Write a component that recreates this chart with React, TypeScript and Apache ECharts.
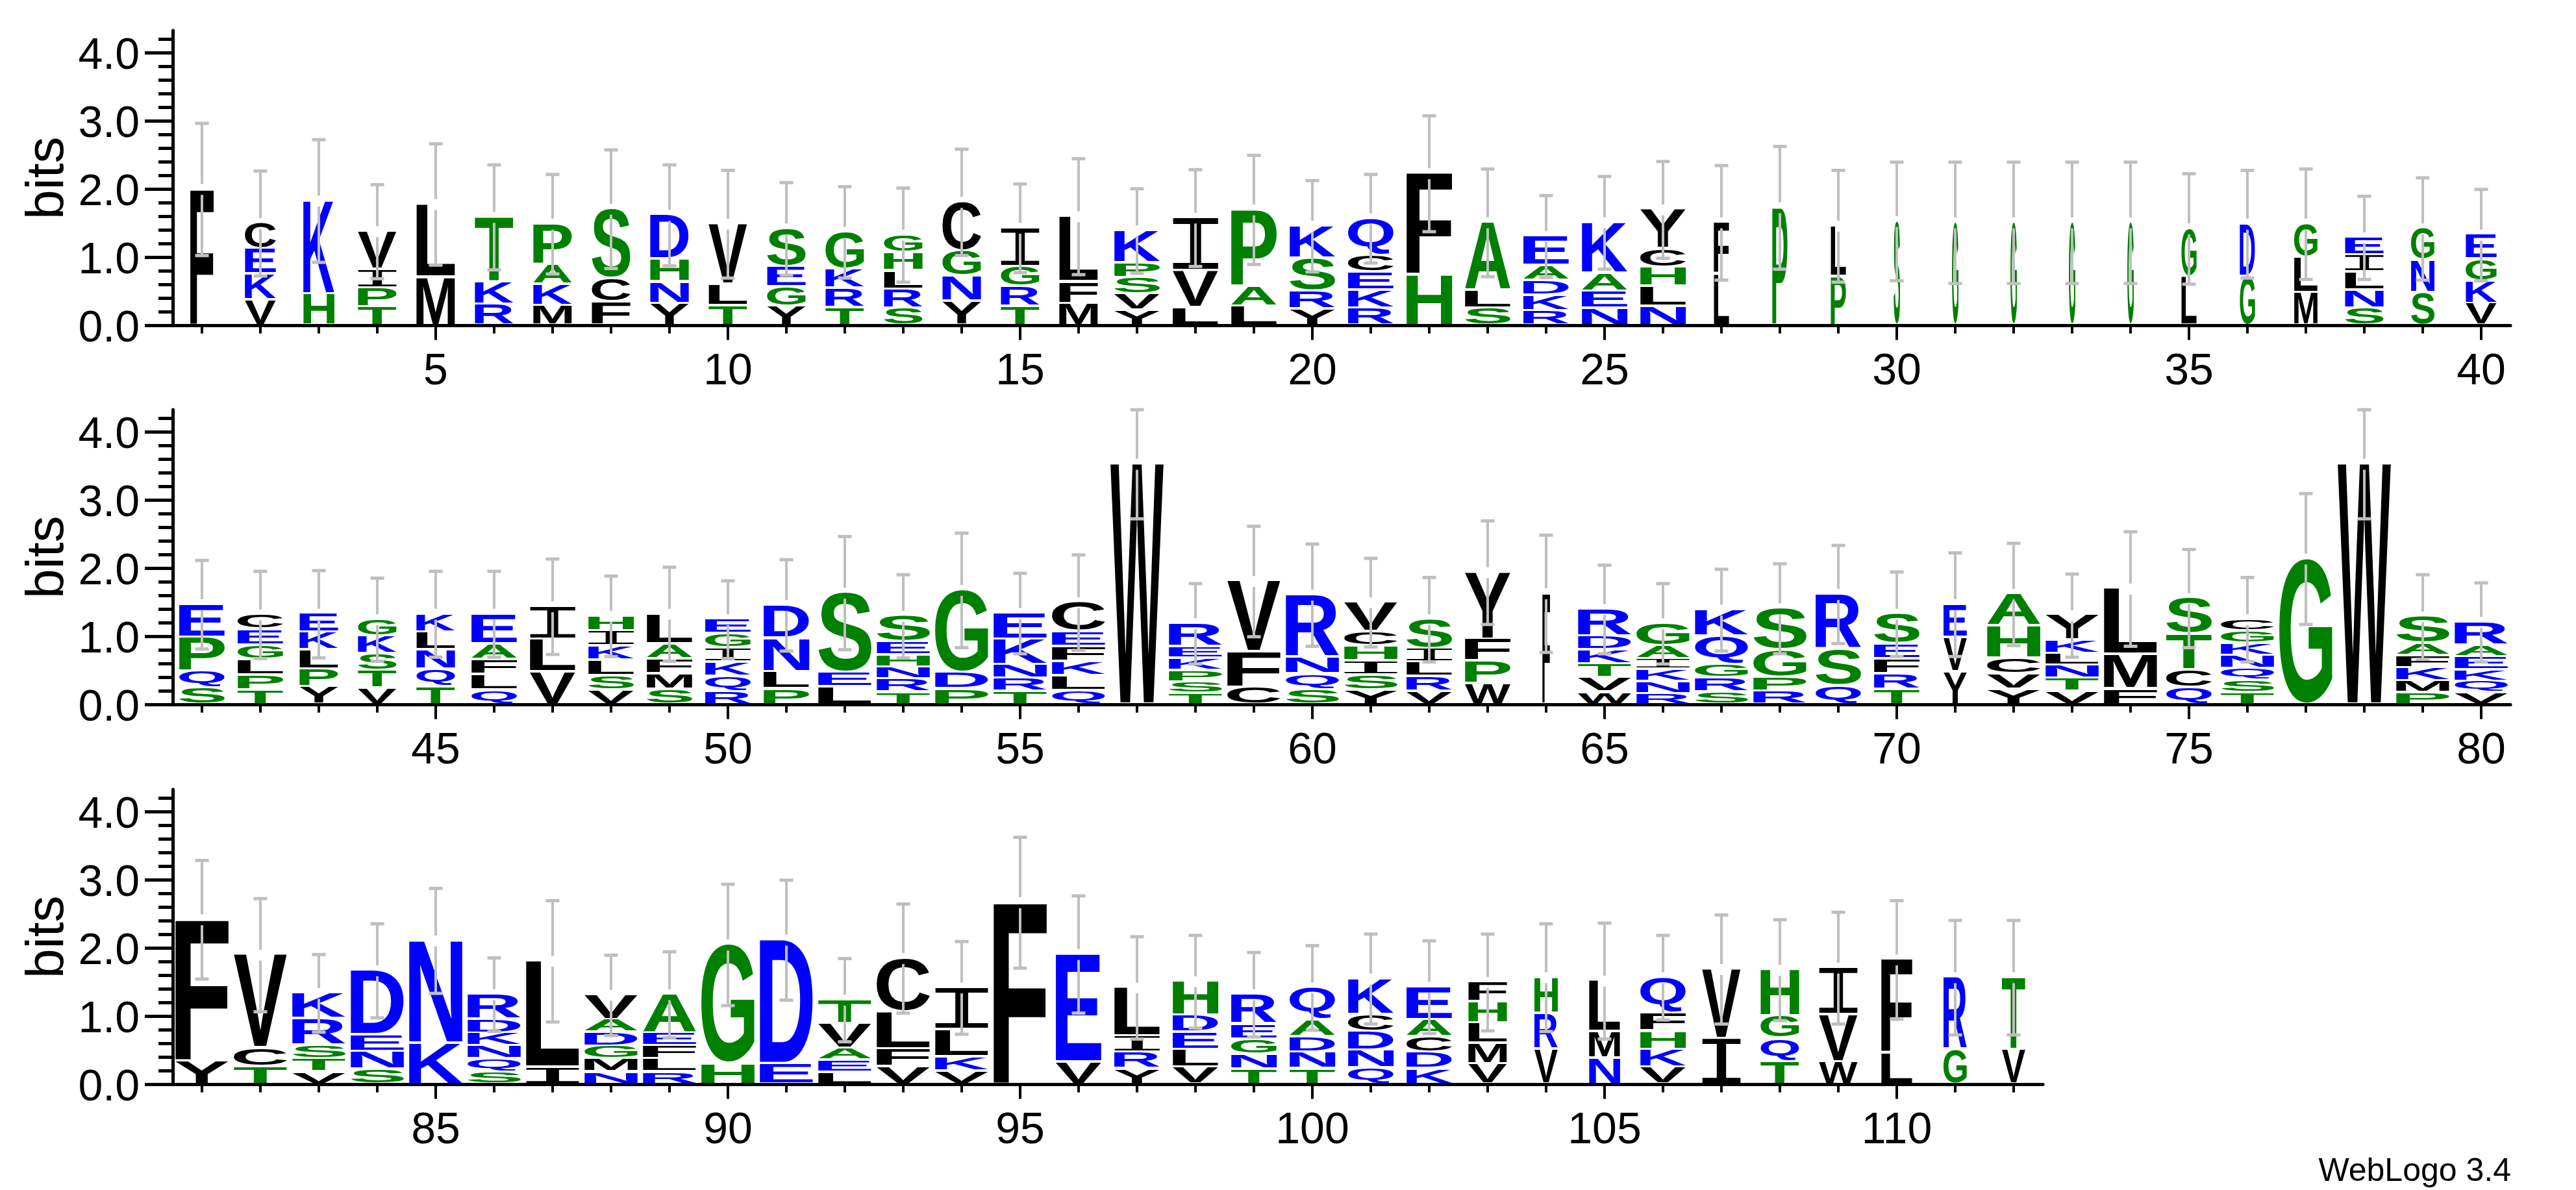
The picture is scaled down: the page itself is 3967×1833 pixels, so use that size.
import { useEffect, useRef } from "react";
import * as echarts from "echarts";

// stack of each position, bottom letter first
const LETTERS = [
  "F","VKEC","HK","TPIV","ML","RKT","MKAP","FCS","YNHD","TLV",
  "YGES","TRKG","SRLHG","YNGC","TRGI","MFL","YVSPK","LVI","LAP","YRSK",
  "RKECQ","HF","SLA","RKDAE","NEAK","NLHCY","LF","P","PL","S",
  "G","G","G","G","LG","GD","MLG","SNLIE","SNG","VKGE",
  "SQPE","TPLGEC","YPLKE","VTSKG","TQNLK","QLFAE","VLI","VSLKIH","SMFAL","RQKIGE",
  "PLND","LES","TRNHES","PDG","TRNKE","QLKFEC","W","TSPKER","CFV","SQNR",
  "YSIHCV","VRLIS","WPFY","F","WVTKDR","RNKIAG","SRGQK","RPGS","QSR","TRFES",
  "YVE","YVCHA","VTNLKY","FML","QCTS","TSQNKGC","G","W","PMKFAS","VQKEAR",
  "YF","TCV","VTSRK","SNED","KN","SQNKDR","IL","NMGDAV","RLFEA","HG",
  "ED","LEAVT","VFLC","VKLI","F","VE","YRIL","VLEDH","TNGER","TNDAQ",
  "QNDCK","KDCAE","VMLHF","VRH","NML","VKHFQ","IV","TQGH","WVI","LF",
  "GR","VT",
];
const HEIGHTS = [
  [1.97],[.34,.38,.37,.38],[.43,1.37],[.24,.28,.27,.56],[.68,1.07],[.28,.33,.95],[.26,.31,.29,.6],[.31,.34,1.03],[.29,.32,.33,.65],[.26,.31,.89],
  [.25,.28,.3,.56],[.23,.28,.28,.55],[.22,.28,.27,.27,.26],[.32,.37,.37,.72],[.25,.29,.29,.57],[.29,.32,.96],[.19,.24,.24,.22,.47],[.23,.54,.78],[.25,.29,1.13],[.21,.26,.48,.48],
  [.22,.27,.26,.25,.54],[.71,1.49],[.22,.26,1],[.18,.23,.22,.22,.43],[.22,.25,.26,.75],[.25,.29,.28,.27,.58],[.72,.76],[1.7],[.69,.74],[1.5],
  [1.48],[1.48],[1.48],[1.48],[.68,.71],[.69,.77],[.45,.52,.49],[.22,.27,.26,.25,.26],[.45,.47,.47],[.29,.33,.32,.36],
  [.21,.25,.5,.48],[.18,.22,.23,.21,.23,.22],[.23,.26,.28,.26,.27],[.21,.26,.24,.26,.25],[.23,.26,.28,.26,.27],[.18,.23,.22,.23,.44],[.45,.48,.48],[.18,.21,.23,.21,.22,.22],[.19,.23,.22,.22,.44],[.16,.22,.21,.21,.21,.21],
  [.2,.25,.49,.49],[.23,.21,1.17],[.15,.19,.18,.18,.19,.38],[.2,.24,1.21],[.16,.19,.2,.38,.38],[.17,.22,.21,.22,.22,.43],[3.5],[.13,.17,.17,.18,.17,.34],[.22,.52,1.04],[.19,.23,.24,.92],
  [.18,.22,.21,.22,.21,.43],[.16,.22,.21,.2,.43],[.28,.33,.32,.98],[1.6],[.15,.21,.2,.21,.2,.4],[.13,.18,.18,.15,.19,.33],[.15,.21,.19,.42,.39],[.16,.21,.4,.61],[.24,.54,.81],[.19,.23,.22,.22,.44],
  [.45,.5,.49],[.19,.23,.23,.47,.47],[.16,.19,.19,.18,.19,.37],[.2,.5,.97],[.22,.26,.52,.53],[.14,.18,.18,.19,.18,.18,.17],[2.11],[3.5],[.14,.18,.19,.18,.18,.39],[.14,.17,.17,.19,.17,.34],
  [.31,2.08],[.23,.27,1.37],[.15,.19,.2,.39,.38],[.19,.26,.24,.95],[.57,1.51],[.15,.19,.19,.19,.2,.37],[.22,1.56],[.15,.19,.19,.2,.19,.36],[.15,.19,.19,.19,.57],[.27,1.75],
  [.27,1.82],[.14,.18,.18,.36,.35],[.23,.26,.54,.79],[.16,.21,.4,.62],[2.64],[.29,1.59],[.2,.24,.24,.71],[.22,.26,.25,.25,.5],[.19,.22,.22,.22,.44],[.2,.24,.23,.24,.48],
  [.21,.26,.27,.25,.53],[.2,.24,.23,.25,.48],[.27,.3,.3,.31,.29],[.48,.53,.53],[.35,.39,.75],[.22,.26,.27,.26,.53],[.64,1.02],[.3,.34,.33,.68],[.3,.69,.69],[.42,1.38],
  [.48,1.06],[.48,1.06],
];
// upper end of each error bar, in bits (bar is symmetric about the stack top)
const ERR_TOP = [
  2.94,2.24,2.7,2.04,2.64,2.33,2.19,2.55,2.33,2.25,
  2.07,2.01,1.99,2.56,2.05,2.42,1.98,2.26,2.47,2.1,
  2.19,3.05,2.27,1.88,2.16,2.38,2.32,2.6,2.25,2.37,
  2.37,2.37,2.37,2.37,2.2,2.25,2.27,1.87,2.14,1.97,
  2.09,1.93,1.94,1.83,1.93,1.93,2.11,1.86,1.99,1.79,
  2.1,2.44,1.88,2.49,1.9,2.17,4.3,1.75,2.59,2.33,
  2.12,1.84,2.67,2.46,2.02,1.75,1.96,2.04,2.31,1.92,
  2.2,2.34,1.89,2.51,2.25,1.84,3.07,4.3,1.88,1.76,
  3.26,2.7,1.88,2.33,2.85,1.83,2.67,1.87,1.92,2.91,
  2.97,1.82,2.62,2.07,3.6,2.74,2.14,2.16,1.91,2.01,
  2.18,2.08,2.18,2.33,2.34,2.16,2.46,2.39,2.5,2.67,
  2.38,2.38,
];
// letter width of each position, as a share of one column
const COL_WIDTH = [
  .4,.53,.53,.66,.66,.66,.66,.66,.66,.66,
  .66,.66,.66,.66,.66,.66,.78,.78,.78,.78,
  .78,.78,.78,.78,.78,.78,.26,.26,.26,.11,
  .11,.11,.11,.11,.26,.26,.4,.66,.4,.53,
  .78,.78,.66,.66,.66,.78,.78,.78,.78,.78,
  .78,.91,.91,.91,.91,.91,.91,.91,.91,.91,
  .91,.78,.78,.13,.91,.91,.91,.91,.78,.78,
  .4,.91,.91,.91,.78,.91,.91,.91,.91,.91,
  .91,.91,.91,.91,.91,.91,.91,.91,.91,.91,
  .91,.91,.91,.91,.91,.78,.78,.78,.78,.78,
  .78,.78,.66,.4,.53,.78,.66,.66,.66,.53,
  .4,.4,
];

const BLACK = "FCVLMIYW";
const BLUE = "DEKRNQ";
const Y_LABELS = [0, 1, 2, 3, 4];
const Y_MINOR = [.2,.4,.6,.8,1.2,1.4,1.6,1.8,2.2,2.4,2.6,2.8,3.2,3.4,3.6,3.8,4.2];
const ROWS = [
  { from: 1, to: 40, top: 47, labels: [5,10,15,20,25,30,35,40] },
  { from: 41, to: 80, top: 631, labels: [45,50,55,60,65,70,75,80] },
  { from: 81, to: 112, top: 1216, labels: [85,90,95,100,105,110] },
];
const COL_PX = 90;
const GRID_LEFT = 266;
const BITS_PX = 105;
const Y_MAX = 4.33;

const letterColor = (c: string) => (BLACK.includes(c) ? "#000000" : BLUE.includes(c) ? "#0000ff" : "#008000");
// the logo's I has slab bars and a thin stem, the rest is plain bold sans
const letterFont = (c: string) => (c === "I" ? "DejaVu Sans Mono" : "Liberation Sans");
const letterWeight = (c: string) => (c === "I" ? "normal" : "bold");

// ink box of a glyph, so it can be stretched to fill its slot exactly
const inkCache: Record<string, any> = {};
function ink(c: string) {
  if (inkCache[c]) return inkCache[c];
  const ctx = document.createElement("canvas").getContext("2d")!;
  ctx.font = `${letterWeight(c)} 200px "${letterFont(c)}"`;
  ctx.textAlign = "center";
  ctx.textBaseline = "alphabetic";
  const m = ctx.measureText(c);
  inkCache[c] = {
    l: m.actualBoundingBoxLeft,
    r: m.actualBoundingBoxRight,
    a: m.actualBoundingBoxAscent,
    d: m.actualBoundingBoxDescent,
    mid: (m.fontBoundingBoxAscent - m.fontBoundingBoxDescent) / 2,
  };
  return inkCache[c];
}

function renderColumn(params: any, api: any) {
  const pos = api.value(0);
  const i = pos - 1;
  const unit = api.size([1, 0])[0];
  const w = COL_WIDTH[i] * unit;
  const cx = api.coord([pos, 0])[0];
  const lift = 3; // letters sit just above the axis
  const py = (v: number) => api.coord([pos, v])[1] - lift;
  const children: any[] = [];
  let sum = 0;
  HEIGHTS[i].forEach((h, k) => {
    const c = LETTERS[i][k];
    const bottom = py(sum) - (k > 0 ? 3.5 : 0);
    const top = py(sum + h);
    sum += h;
    const m = ink(c);
    const sx = w / (m.l + m.r);
    const sy = (bottom - top) / (m.a + m.d);
    children.push({
      type: "text",
      x: cx - (sx * (m.r - m.l)) / 2,
      y: bottom - sy * (m.mid + m.d),
      scaleX: sx,
      scaleY: sy,
      silent: true,
      style: {
        text: c,
        x: 0,
        y: 0,
        fill: letterColor(c),
        fontSize: 200,
        fontWeight: letterWeight(c),
        fontFamily: letterFont(c),
        align: "center",
        verticalAlign: "middle",
      },
    });
  });
  const hi = ERR_TOP[i];
  const lo = 2 * sum - hi;
  const gap = 0.08;
  const bar = { fill: "#bfbfbf" };
  const lineW = 4;
  const capW = 21;
  const capH = 5;
  children.push(
    { type: "rect", silent: true, shape: { x: cx - lineW / 2, y: py(hi), width: lineW, height: py(sum + gap) - py(hi) }, style: bar },
    { type: "rect", silent: true, shape: { x: cx - lineW / 2, y: py(sum - gap), width: lineW, height: py(lo) - py(sum - gap) }, style: bar },
    { type: "rect", silent: true, shape: { x: cx - capW / 2, y: py(hi) - capH / 2, width: capW, height: capH }, style: bar },
    { type: "rect", silent: true, shape: { x: cx - capW / 2, y: py(lo) - capH / 2, width: capW, height: capH }, style: bar },
  );
  return { type: "group", children };
}

export default function App() {
  const ref = useRef<HTMLDivElement>(null);
  useEffect(() => {
    if (!ref.current) return;
    document.body.style.margin = "0";
    const chart = echarts.init(ref.current, undefined, { renderer: "svg" });
    const font = "Liberation Sans";
    const black = "#000000";
    const grid: any[] = [];
    const xAxis: any[] = [];
    const yAxis: any[] = [];
    const series: any[] = [];
    ROWS.forEach((row, g) => {
      const n = row.to - row.from + 1;
      grid.push({ left: GRID_LEFT, top: row.top, width: n * COL_PX, height: Y_MAX * BITS_PX });
      const xBase = { type: "value", gridIndex: g, min: row.from - 0.5, max: row.to + 0.5, splitLine: { show: false }, position: "bottom" };
      const positions: number[] = [];
      for (let p = row.from; p <= row.to; p++) positions.push(p);
      xAxis.push({
        ...xBase,
        axisLine: { onZero: false, lineStyle: { color: black, width: 5 } },
        axisTick: { customValues: row.labels, length: 22, lineStyle: { color: black, width: 4 } },
        axisLabel: { customValues: row.labels, color: black, fontSize: 68, fontFamily: font, margin: 32, formatter: (v: number) => String(v) },
      });
      xAxis.push({
        ...xBase,
        axisLine: { show: false },
        axisTick: { customValues: positions, length: 12, lineStyle: { color: black, width: 4 } },
        axisLabel: { show: false },
      });
      const yBase = { type: "value", gridIndex: g, min: 0, max: Y_MAX, splitLine: { show: false }, position: "left" };
      yAxis.push({
        ...yBase,
        name: "bits",
        nameLocation: "middle",
        nameRotate: 90,
        nameGap: 156,
        nameTextStyle: { color: black, fontSize: 82, fontFamily: font },
        axisLine: { onZero: false, lineStyle: { color: black, width: 5 } },
        axisTick: { customValues: Y_LABELS, length: 43, lineStyle: { color: black, width: 5 } },
        axisLabel: { customValues: Y_LABELS, color: black, fontSize: 68, fontFamily: font, margin: 51, formatter: (v: number) => v.toFixed(1) },
      });
      yAxis.push({
        ...yBase,
        axisLine: { show: false },
        axisTick: { customValues: Y_MINOR, length: 22, lineStyle: { color: black, width: 5 } },
        axisLabel: { show: false },
      });
      series.push({
        type: "custom",
        xAxisIndex: g * 2,
        yAxisIndex: g * 2,
        clip: false,
        silent: true,
        renderItem: renderColumn,
        encode: { x: 0, y: 1 },
        data: positions.map((p) => [p, ERR_TOP[p - 1]]),
      });
    });
    chart.setOption({
      animation: false,
      backgroundColor: "#ffffff",
      grid,
      xAxis,
      yAxis,
      series,
      graphic: [
        {
          type: "text",
          right: 100,
          bottom: 6,
          style: { text: "WebLogo 3.4", fill: black, fontSize: 50, fontFamily: font },
        },
      ],
    });
    return () => chart.dispose();
  }, []);
  return <div ref={ref} style={{ width: 3967, height: 1833 }} />;
}
